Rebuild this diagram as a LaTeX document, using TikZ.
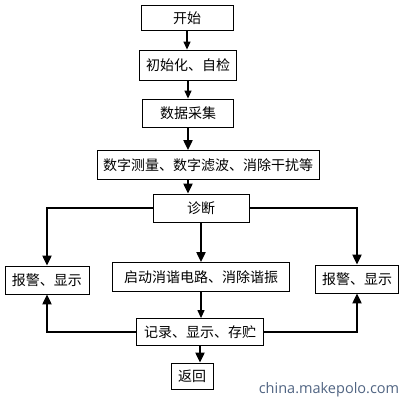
\documentclass[tikz,border=0pt]{standalone}
\usepackage{fontspec}
\setmainfont{Noto Sans CJK SC}
\newfontfamily\wmfont{Open Sans}
\usetikzlibrary{arrows.meta}
\definecolor{wmblue}{RGB}{80,100,130}

\begin{document}
\begin{tikzpicture}[x=1pt,y=-1pt,
    box/.style={draw, line width=0.8pt, inner sep=0pt, font=\fontsize{14}{14}\selectfont},
    arr/.style={line width=1.2pt, -{Triangle[length=8pt,width=7pt]}},
    arrb/.style={line width=2pt, -{Triangle[length=10pt,width=9pt]}}]
    \useasboundingbox (0,0) rectangle (404,404);

    % Main column
    \node[box, minimum width=92pt, minimum height=25pt] (start) at (187,18) {开始};
    \node[box, minimum width=97pt, minimum height=30pt] (init) at (188,65) {初始化、自检};
    \node[box, minimum width=91pt, minimum height=28pt] (acq) at (188,113) {数据采集};
    \node[box, minimum width=222pt, minimum height=29pt] (meas) at (208,165) {数字测量、数字滤波、消除干扰等};
    \node[box, minimum width=96pt, minimum height=28pt] (diag) at (201,208) {诊断};

    % Branches
    \node[box, minimum width=84pt, minimum height=28pt] (alarmL) at (47,280) {报警、显示};
    \node[box, minimum width=177pt, minimum height=29pt] (damp) at (201,277) {启动消谐电路、消除谐振};
    \node[box, minimum width=83pt, minimum height=28pt] (alarmR) at (357,279) {报警、显示};
    \node[box, minimum width=127pt, minimum height=27pt] (rec) at (200,332) {记录、显示、存贮};
    \node[box, minimum width=42pt, minimum height=26pt] (ret) at (192,376) {返回};

    % Watermark
    \node[font=\wmfont\fontsize{14.5}{14.5}\selectfont, text=wmblue] (wm) at (329,390) {china.makepolo.com};

    % Arrows
    \draw[arr] (start.south) -- (start.south |- init.north);
    \draw[arr] (init.south) -- (init.south |- acq.north);
    \draw[arrb] (acq.south) -- (acq.south |- meas.north);
    \draw[arrb] (acq.south |- meas.south) -- (acq.south |- diag.north);
    \draw[arrb] (diag.west) -| (alarmL.north);
    \draw[arrb] (diag.east) -| (alarmR.north);
    \draw[arrb] (diag.south) -- (damp.north);
    \draw[arr] (damp.south) -- (damp.south |- rec.north);
    \draw[arrb] (rec.west) -| (alarmL.south);
    \draw[arrb] (rec.east) -| (alarmR.south);
    \draw[arrb] (rec.south) -- (rec.south |- ret.north);
\end{tikzpicture}
\end{document}
